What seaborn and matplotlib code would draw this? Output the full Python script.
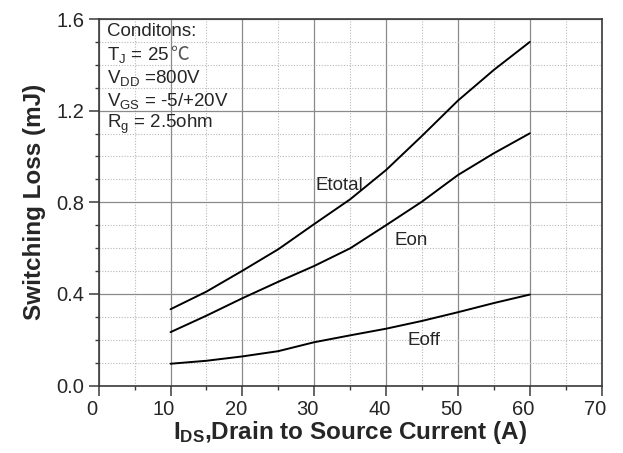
import numpy as np
import pandas as pd
import matplotlib
matplotlib.use("Agg")
import matplotlib.pyplot as plt
from matplotlib.ticker import MultipleLocator, FormatStrFormatter
from matplotlib.transforms import ScaledTranslation
import seaborn as sns

# Switching energy vs drain current (A -> mJ)
current = [10, 15, 20, 25, 30, 35, 40, 45, 50, 55, 60]
e_total = [0.333, 0.410, 0.501, 0.595, 0.705, 0.813, 0.941, 1.090, 1.244, 1.378, 1.500]
e_on = [0.233, 0.305, 0.381, 0.453, 0.522, 0.599, 0.700, 0.803, 0.919, 1.014, 1.101]
e_off = [0.095, 0.108, 0.127, 0.150, 0.189, 0.219, 0.248, 0.282, 0.320, 0.360, 0.397]
series_names = ["Etotal", "Eon", "Eoff"]

conditions = [
    "Conditons:",
    "T$_\\mathregular{J}$ = 25",
    "V$_\\mathregular{DD}$ =800V",
    "V$_\\mathregular{GS}$ = -5/+20V",
    "R$_\\mathregular{g}$ = 2.5ohm",
]

df = pd.DataFrame({
    "I": current * 3,
    "E": e_total + e_on + e_off,
    "curve": sum([[n] * len(current) for n in series_names], []),
})

sns.set_style("white")
plt.rcParams["font.family"] = ["Liberation Sans", "DejaVu Sans"]
plt.rcParams["mathtext.fontset"] = "custom"
plt.rcParams["mathtext.rm"] = "Liberation Sans"
plt.rcParams["mathtext.it"] = "Liberation Sans:italic"
plt.rcParams["mathtext.bf"] = "Liberation Sans:bold"

fig = plt.figure(figsize=(6.23, 4.53), dpi=100)
ax = fig.add_axes([0.1584, 0.149, 0.8074, 0.809])

sns.lineplot(data=df, x="I", y="E", hue="curve", palette=["black"] * 3,
             linewidth=1.4, legend=False, ax=ax, zorder=5)

ax.set_xlim(0, 70)
ax.set_ylim(0, 1.6)
ax.xaxis.set_major_locator(MultipleLocator(10))
ax.xaxis.set_minor_locator(MultipleLocator(5))
ax.yaxis.set_major_locator(MultipleLocator(0.4))
ax.yaxis.set_minor_locator(MultipleLocator(0.1))
ax.yaxis.set_major_formatter(FormatStrFormatter("%.1f"))

ax.grid(which="major", color="#8a8a8a", linewidth=0.9, linestyle="-")
ax.grid(which="minor", color="#b8b8b8", linewidth=0.8, linestyle=(0, (1, 1.5)))
ax.set_axisbelow(True)

for s in ax.spines.values():
    s.set_color("#3a3a3a")
    s.set_linewidth(1.2)

ax.tick_params(axis="both", which="major", direction="out", length=7, width=1.1,
               color="#3a3a3a", labelsize=14.5, bottom=True, left=True, pad=3.5)
ax.tick_params(axis="both", which="minor", direction="out", length=3, width=1.0,
               color="#3a3a3a", bottom=True, left=True)

# x tick labels sit slightly left of their ticks
shift = ScaledTranslation(-6.5 / 100, 0, fig.dpi_scale_trans)
for lbl in ax.get_xticklabels():
    lbl.set_transform(lbl.get_transform() + shift)

ax.set_xlabel("$\\mathbf{I}_{\\mathbf{DS}}$,Drain to Source Current (A)",
              fontsize=17.5, fontweight="bold", labelpad=0)
ax.set_ylabel("Switching Loss (mJ)", fontsize=17.5, fontweight="bold", labelpad=7)

ax.text(30.2, 0.874, "Etotal", fontsize=13.5, va="center", ha="left")
ax.text(41.2, 0.634, "Eon", fontsize=13.5, va="center", ha="left")
ax.text(43.0, 0.197, "Eoff", fontsize=13.5, va="center", ha="left")

texts = []
for i, line in enumerate(conditions):
    texts.append(ax.text(1.1, 1.545 - i * 0.101, line, fontsize=13.5,
                         va="center", ha="left"))

# degree-Celsius sign follows the junction temperature value
ax.annotate("\u2103", xy=(1.0, 0.5), xycoords=texts[1], xytext=(1, 0),
            textcoords="offset points", va="center", ha="left", fontsize=13.5,
            color="#555555", family=["Noto Sans CJK SC", "DejaVu Sans"])

fig.savefig("out.png", dpi=100)
